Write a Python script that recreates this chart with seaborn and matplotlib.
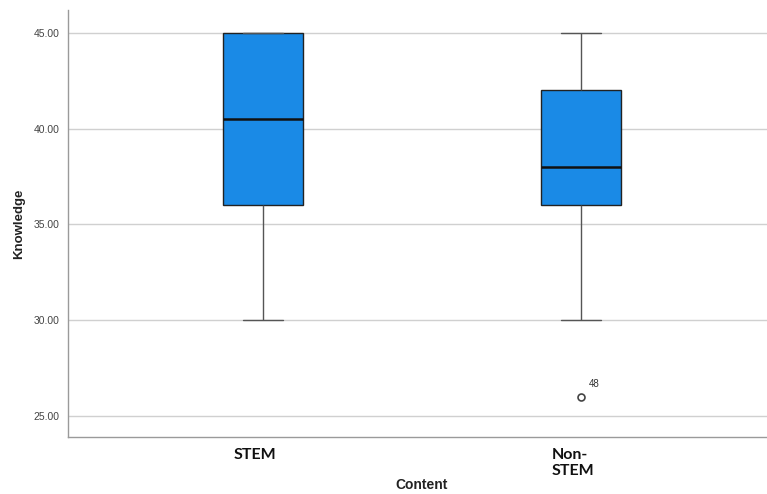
import numpy as np
import pandas as pd
import matplotlib.pyplot as plt
import matplotlib.transforms as mtransforms
import seaborn as sns

# Knowledge scores per content group
stem_scores = [30, 33, 36, 38, 40.5, 43, 45, 45, 45]
nonstem_scores = [26, 30, 36, 37, 38, 40, 42, 44, 45]
categories = ["STEM", "Non-\nSTEM"]
outlier_case = "48"
yticks = [25, 30, 35, 40, 45]

df = pd.DataFrame({
    "Content": [categories[0]] * len(stem_scores) + [categories[1]] * len(nonstem_scores),
    "Knowledge": stem_scores + nonstem_scores,
})

sns.set_style("white")
plt.rcParams["font.family"] = ["Liberation Sans", "DejaVu Sans"]

fig = plt.figure(figsize=(7.67, 4.94), dpi=100)
ax = fig.add_axes([0.0887, 0.1154, 0.9113, 0.8644])

sns.boxplot(data=df, x="Content", y="Knowledge", order=categories, ax=ax,
            color="#1a8ae6", width=0.25, saturation=1, linecolor="#222222",
            linewidth=1.0,
            medianprops=dict(color="#111111", linewidth=1.8),
            whiskerprops=dict(color="#555555", linewidth=1.0),
            capprops=dict(color="#555555", linewidth=1.0),
            flierprops=dict(marker="o", markersize=5, markerfacecolor="white",
                            markeredgecolor="#444444", markeredgewidth=1.2))

# case label beside the outlier
ax.annotate(outlier_case, xy=(1, min(nonstem_scores)), xytext=(6, 7),
            textcoords="offset points", fontsize=7, color="#333333")

ax.set_xlim(-0.613, 1.585)
ax.set_ylim(23.9, 46.2)
ax.set_yticks(yticks)
ax.set_yticklabels([f"{v:.2f}" for v in yticks], fontsize=7.5, color="#444444")
ax.yaxis.grid(True, color="#d0d0d0", linewidth=1.0)
ax.set_axisbelow(True)
ax.tick_params(axis="y", length=0, pad=6)
ax.tick_params(axis="x", length=0, pad=8)

shift = mtransforms.ScaledTranslation(-8 / 100, 0, fig.dpi_scale_trans)
for lab in ax.get_xticklabels():
    lab.set_fontsize(11.5)
    lab.set_fontweight("bold")
    lab.set_family(["Lato", "DejaVu Sans"])
    lab.set_color("#111111")
    lab.set_multialignment("left")
    lab.set_transform(lab.get_transform() + shift)

for side in ["top", "right"]:
    ax.spines[side].set_visible(False)
for side in ["left", "bottom"]:
    ax.spines[side].set_color("#9a9a9a")
    ax.spines[side].set_linewidth(1.0)

ax.set_xlabel("Content", fontsize=10, fontweight="bold", color="#222222")
ax.set_ylabel("Knowledge", fontsize=9.5, fontweight="bold", color="#222222")
ax.xaxis.set_label_coords(0.506, -0.095)
ax.yaxis.set_label_coords(-0.062, 0.5)

fig.savefig("out.png", dpi=100)
